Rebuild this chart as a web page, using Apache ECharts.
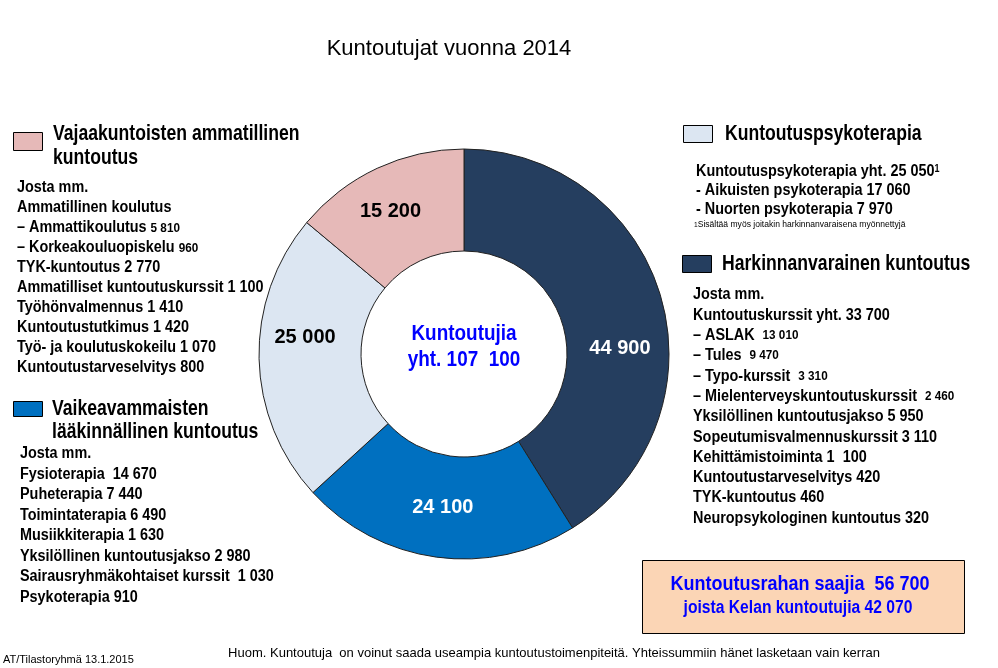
<!DOCTYPE html>
<html><head><meta charset="utf-8">
<script src="https://cdn.jsdelivr.net/npm/echarts@6/dist/echarts.min.js"></script>
<style>html,body{margin:0;padding:0;background:#fff}#c{width:998px;height:668px}</style>
</head><body><div id="c"></div>
<script>
// ---- data ----
const titleText = 'Kuntoutujat vuonna 2014';
const categories = ['Harkinnanvarainen kuntoutus', 'Vaikeavammaisten lääkinnällinen kuntoutus', 'Kuntoutuspsykoterapia', 'Vajaakuntoisten ammatillinen kuntoutus'];
const values = [44900, 24100, 25000, 15200];
const totalPersons = 107100;
const centerLabel = 'Kuntoutujia';
const rahaSaajat = 56700;
const rahaKela = 42070;

const vajaaTitle = ['Vajaakuntoisten ammatillinen', 'kuntoutus'];
const vajaaLines = ['Josta mm.', 'Ammatillinen koulutus', '– Ammattikoulutus {s|5 810}', '– Korkeakouluopiskelu {s|960}', 'TYK-kuntoutus 2 770', 'Ammatilliset kuntoutuskurssit 1 100', 'Työhönvalmennus 1 410', 'Kuntoutustutkimus 1 420', 'Työ- ja koulutuskokeilu 1 070', 'Kuntoutustarveselvitys 800'];
const vaikeaTitle = ['Vaikeavammaisten', 'lääkinnällinen kuntoutus'];
const vaikeaLines = ['Josta mm.', 'Fysioterapia  14 670', 'Puheterapia 7 440', 'Toimintaterapia 6 490', 'Musiikkiterapia 1 630', 'Yksilöllinen kuntoutusjakso 2 980', 'Sairausryhmäkohtaiset kurssit  1 030', 'Psykoterapia 910'];
const psykoTitle = ['Kuntoutuspsykoterapia'];
const psykoLines = ['Kuntoutuspsykoterapia yht. 25 050{sup|1}', '- Aikuisten psykoterapia 17 060', '- Nuorten psykoterapia 7 970'];
const psykoNote = '{sup2|1}Sisältää myös joitakin harkinnanvaraisena myönnettyjä';
const harkTitle = ['Harkinnanvarainen kuntoutus'];
const harkLines = ['Josta mm.', 'Kuntoutuskurssit yht. 33 700', '– ASLAK  {s|13 010}', '– Tules  {s|9 470}', '– Typo-kurssit  {s|3 310}', '– Mielenterveyskuntoutuskurssit  {s|2 460}', 'Yksilöllinen kuntoutusjakso 5 950', 'Sopeutumisvalmennuskurssit 3 110', 'Kehittämistoiminta 1  100', 'Kuntoutustarveselvitys 420', 'TYK-kuntoutus 460', 'Neuropsykologinen kuntoutus 320'];
const footLeft = 'AT/Tilastoryhmä 13.1.2015';
const footNote = 'Huom. Kuntoutuja  on voinut saada useampia kuntoutustoimenpiteitä. Yhteissummiin hänet lasketaan vain kerran';

// ---- style ----
const colors = ['#253E5F', '#0070C0', '#DCE6F2', '#E6B9B8'];
const NARROW = "'Liberation Sans Narrow','Arial Narrow','Liberation Sans',sans-serif";
const REG = "'Liberation Sans',Arial,sans-serif";
const fmt = v => String(v).replace(/\B(?=(\d{3})+(?!\d))/g, ' ');

const richStyles = {
  s: {fontFamily: NARROW, fontWeight: 'bold', fontSize: 13, fill: '#000'},
  sup: {fontFamily: NARROW, fontWeight: 'bold', fontSize: 10, fill: '#000', verticalAlign: 'top', padding: [0,0,6,0]},
  sup2: {fontFamily: NARROW, fontSize: 7, fill: '#000'}
};

const graphics = [];
function txt(x, y, text, size, weight, color, align, family, sx) {
  graphics.push({type: 'text', x: x, y: y, scaleX: sx || 1, style: {
    text: text, fontFamily: family || NARROW, fontSize: size, fontWeight: weight || 'bold',
    fill: color || '#000', textAlign: align || 'left', textVerticalAlign: 'middle', rich: richStyles
  }});
}
function swatch(x, y, w, h, color) {
  graphics.push({type: 'rect', shape: {x: x, y: y, width: w, height: h}, style: {fill: color, stroke: '#000', lineWidth: 1}});
}
function block(lines, x, y0, step, size, sx) {
  lines.forEach((l, i) => txt(x, y0 + i * step, l, size, 'bold', '#000', 'left', NARROW, sx));
}

// left top
swatch(13.5, 132.5, 29, 18, colors[3]);
block(vajaaTitle, 53, 134, 24, 22, 0.8);
block(vajaaLines, 17, 188, 20, 16, 0.9);
// left bottom
swatch(13.5, 401.5, 29, 15, colors[1]);
block(vaikeaTitle, 52, 409, 23, 22, 0.8);
block(vaikeaLines, 20, 454, 20.5, 16, 0.9);
// right top
swatch(683.5, 125.5, 29, 17, colors[2]);
block(psykoTitle, 725, 134, 24, 22, 0.8);
block(psykoLines, 696, 172, 19, 16, 0.9);
txt(694, 225, psykoNote, 9, 'normal', '#000', 'left', NARROW, 0.95);
// right bottom
swatch(682.5, 255.5, 29, 17, colors[0]);
block(harkTitle, 722, 264, 24, 22, 0.8);
block(harkLines, 693, 295, 20.3, 16, 0.9);
// center text
txt(464, 334, centerLabel, 22, 'bold', '#0000FF', 'center', NARROW, 0.86);
txt(464, 360, 'yht. ' + fmt(totalPersons).replace(' ', '  '), 22, 'bold', '#0000FF', 'center', NARROW, 0.86);
// box
graphics.push({type: 'rect', shape: {x: 642.5, y: 560.5, width: 322, height: 73}, style: {fill: '#FBD5B5', stroke: '#000', lineWidth: 1}});
txt(800, 584, 'Kuntoutusrahan saajia  ' + fmt(rahaSaajat), 20, 'bold', '#0000FF', 'center', NARROW, 0.9);
txt(798, 608, 'joista Kelan kuntoutujia ' + fmt(rahaKela), 18, 'bold', '#0000FF', 'center', NARROW, 0.87);
// footers
txt(3, 660, footLeft, 11, 'normal', '#000', 'left', REG);
txt(554, 653, footNote, 13, 'normal', '#000', 'center', REG);

const labelShift = [[5, 38], [0, -2], [-2, -20], [-7, 0]];

const chart = echarts.init(document.getElementById('c'), null, {renderer: 'canvas'});
chart.setOption({
  animation: false,
  backgroundColor: '#fff',
  title: {text: titleText, left: 444, top: 33, textAlign: 'center',
    textStyle: {fontFamily: REG, fontWeight: 'normal', fontSize: 22, color: '#000'}},
  series: [{
    type: 'pie',
    center: [464, 354],
    radius: [103, 205],
    startAngle: 90,
    clockwise: true,
    avoidLabelOverlap: false,
    silent: true,
    data: categories.map((c, i) => ({name: c, value: values[i],
      itemStyle: {color: colors[i]},
      label: {color: (i < 2) ? '#fff' : '#000'}})),
    itemStyle: {borderColor: '#222', borderWidth: 1},
    label: {show: true, position: 'inside', formatter: p => fmt(p.value),
      fontFamily: NARROW, fontWeight: 'bold', fontSize: 20},
    labelLine: {show: false},
    labelLayout: p => ({dx: labelShift[p.dataIndex][0], dy: labelShift[p.dataIndex][1]})
  }],
  graphic: graphics
});
</script></body></html>
